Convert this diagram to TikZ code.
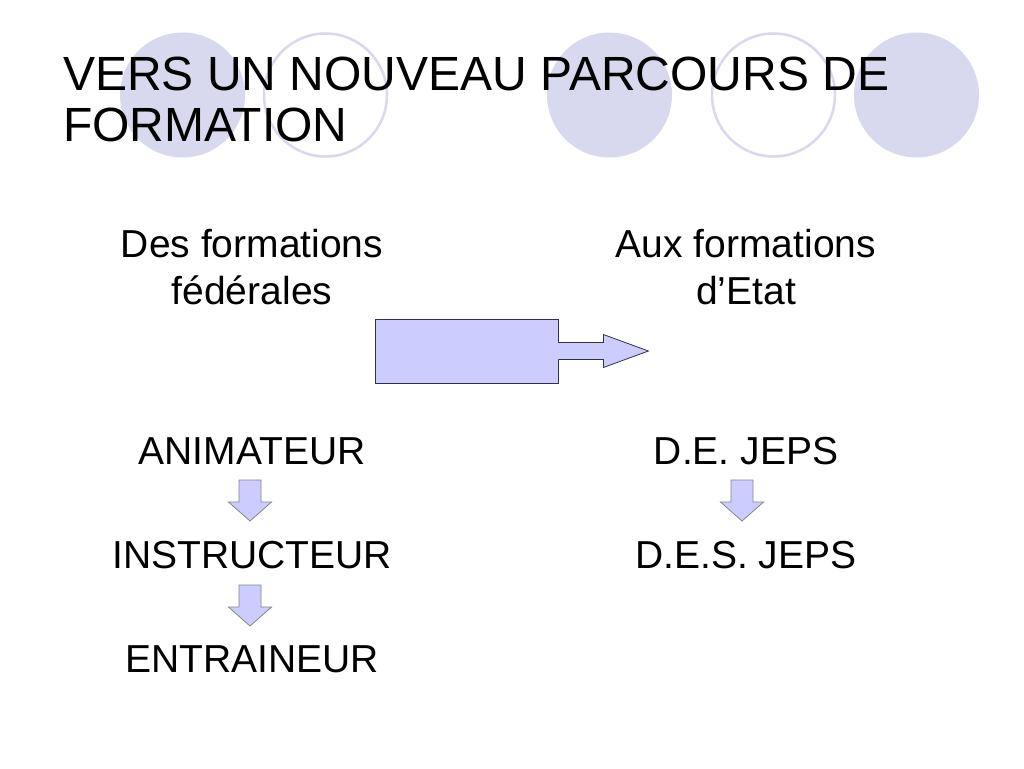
\documentclass[tikz,border=0pt]{standalone}
\usepackage{fontspec}
\setmainfont{Liberation Sans}
\usepackage{tikz}
\usetikzlibrary{positioning, calc}

\definecolor{ringblue}{RGB}{216,216,238}
\definecolor{arrowfill}{RGB}{204,204,255}
\definecolor{arrowline}{RGB}{50,50,70}

\begin{document}
\begin{tikzpicture}[
    x=1pt, y=-1pt,
    dot/.style={circle, fill=ringblue, draw=none, minimum size=125pt, inner sep=0},
    ring/.style={circle, draw=ringblue, line width=2.5pt, fill=white, minimum size=123pt, inner sep=0},
    titletext/.style={anchor=base west, inner sep=0, font=\fontsize{48}{51}\selectfont},
    bodytext/.style={anchor=base, inner sep=0, font=\fontsize{39}{47}\selectfont},
    bigbox/.style={rectangle, draw=arrowline, fill=arrowfill, line width=0.8pt, minimum width=183pt, minimum height=64pt, inner sep=0},
    blockarrow/.style={draw=arrowline!60, fill=arrowfill, line width=0.8pt, line join=miter},
    downblock/.pic={\draw[blockarrow] (-11,0) -- (11,0) -- (11,22) -- (21.5,22) -- (0,41) -- (-21.5,22) -- (-11,22) -- cycle;}
]
    \useasboundingbox[fill=white] (0,0) rectangle (1024,768);

    % Circles
    \node (c1) [dot] at (182.5,95) {};
    \node (c2) [ring] at (325.5,95) {};
    \node (c3) [dot] at (609.5,95) {};
    \node (c4) [ring] at (773.5,95) {};
    \node (c5) [dot] at (916.5,95) {};

    % Title
    \node (title1) [titletext] at (63,90) {VERS UN NOUVEAU PARCOURS DE};
    \node (title2) [titletext] at (63,141) {FORMATION};

    % Columns
    \node (fed1) [bodytext] at (252,257) {Des formations};
    \node (fed2) [bodytext] at (252,304) {fédérales};
    \node (etat1) [bodytext] at (746,257) {Aux formations};
    \node (etat2) [bodytext] at (746,304) {d’Etat};

    \node (anim) [bodytext] at (252,464) {ANIMATEUR};
    \node (instr) [bodytext] at (252,568) {INSTRUCTEUR};
    \node (entr) [bodytext] at (252,672) {ENTRAINEUR};
    \node (dejeps) [bodytext] at (746,464) {D.E. JEPS};
    \node (desjeps) [bodytext] at (746,568) {D.E.S. JEPS};

    % Big arrow
    \node (box) [bigbox] at (466.5,351) {};
    \fill[arrowfill] ($(box.east)+(-1,-8.5)$) -- ++(46,0) -- ++(0,-8) -- ++(45,16.5) -- ++(-45,16.5) -- ++(0,-8) -- ++(-46,0) -- cycle;
    \draw[arrowline, line width=0.8pt, line join=miter] ($(box.east)+(0,-8.5)$) -- ++(45,0) -- ++(0,-8) -- ++(45,16.5) -- ++(-45,16.5) -- ++(0,-8) -- ++(-45,0);

    % Flows
    \pic at ($(anim.base)+(-2,16)$) {downblock};
    \pic at ($(instr.base)+(-2,17)$) {downblock};
    \pic at ($(dejeps.base)+(-4,16)$) {downblock};

\end{tikzpicture}
\end{document}
